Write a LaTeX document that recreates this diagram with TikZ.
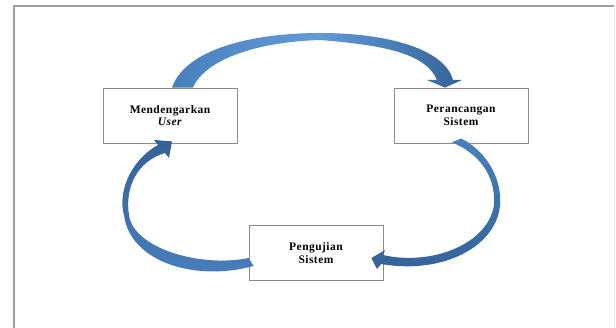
\documentclass[tikz,border=0pt]{standalone}
\usepackage{fontspec}
\setmainfont{Liberation Serif}
\newfontfamily\boxfont[LetterSpace=4]{Liberation Serif}
\usetikzlibrary{calc}
\definecolor{arrowmid}{RGB}{72,128,190}
\definecolor{arrowdark}{RGB}{52,98,152}
\definecolor{arrowlight}{RGB}{98,155,215}
\definecolor{framegray}{RGB}{160,160,160}
\definecolor{framelight}{RGB}{232,232,232}
\definecolor{boxgray}{RGB}{138,138,138}
\begin{document}
\begin{tikzpicture}[x=1pt,y=-1pt,
  stagebox/.style={draw=boxgray,fill=white,line width=0.8pt,minimum width=134pt,minimum height=55pt,
    inner sep=0pt,align=center,font={\boxfont\bfseries\fontsize{11.5}{12.5}\selectfont}},
  ribbon/.style={draw=none}]
\useasboundingbox (0,0) rectangle (616,328);
\fill[white] (0,0) rectangle (616,328);
% page frame
\draw[framelight,line width=0.8pt] (614,6) -- (614,328);
\draw[framegray,line width=1.6pt] (14,328) -- (14,6) -- (614,6);
% stages
\node[stagebox] (mu) at (170,115.5) {Mendengarkan\\\textit{User}};
\node[stagebox] (ps) at (461,115.5) {Perancangan\\Sistem};
\node[stagebox] (pj) at (316,253) {Pengujian\\Sistem};
% top curved arrow: Mendengarkan User -> Perancangan Sistem
\shade[ribbon,left color=arrowmid,right color=arrowdark,middle color=arrowlight]
  ($(mu.north)+(2,0)$) .. controls (185,50) and (250,33) .. (320,33)
  .. controls (390,33) and (445,50) .. (453,80) -- (462,80)
  -- ($(ps.north)+(-16,0)$) -- (427,80) -- (437,80)
  .. controls (425,52) and (380,45) .. (320,40)
  .. controls (255,42) and (205,60) .. ($(mu.north)+(23,0)$) -- cycle;
% right curved arrow: Perancangan Sistem -> Pengujian Sistem
\shade[ribbon,top color=arrowmid,bottom color=arrowdark]
  ($(ps.south)+(0,-5)$) .. controls (488,152) and (502,180) .. (500,205)
  .. controls (497,245) and (445,275) .. (381,264) -- (377,269)
  -- ($(pj.east)+(-12,5)$) -- (385,250) -- (383,255)
  .. controls (430,266) and (488,245) .. (494,205)
  .. controls (496,175) and (478,153) .. ($(ps.south)+(-9,-1)$) -- cycle;
% left curved arrow: Pengujian Sistem -> Mendengarkan User
\shade[ribbon,top color=arrowdark,bottom color=arrowmid]
  ($(pj.west)+(5,13)$) .. controls (195,282) and (130,262) .. (124,215)
  .. controls (118,195) and (128,162) .. (158,145) -- (154,140)
  -- ($(mu.south)+(2,-2)$) -- (169,158) -- (165,153)
  .. controls (135,162) and (125,190) .. (129,215)
  .. controls (133,248) and (200,268) .. ($(pj.west)+(0,5)$) -- cycle;
\end{tikzpicture}
\end{document}
